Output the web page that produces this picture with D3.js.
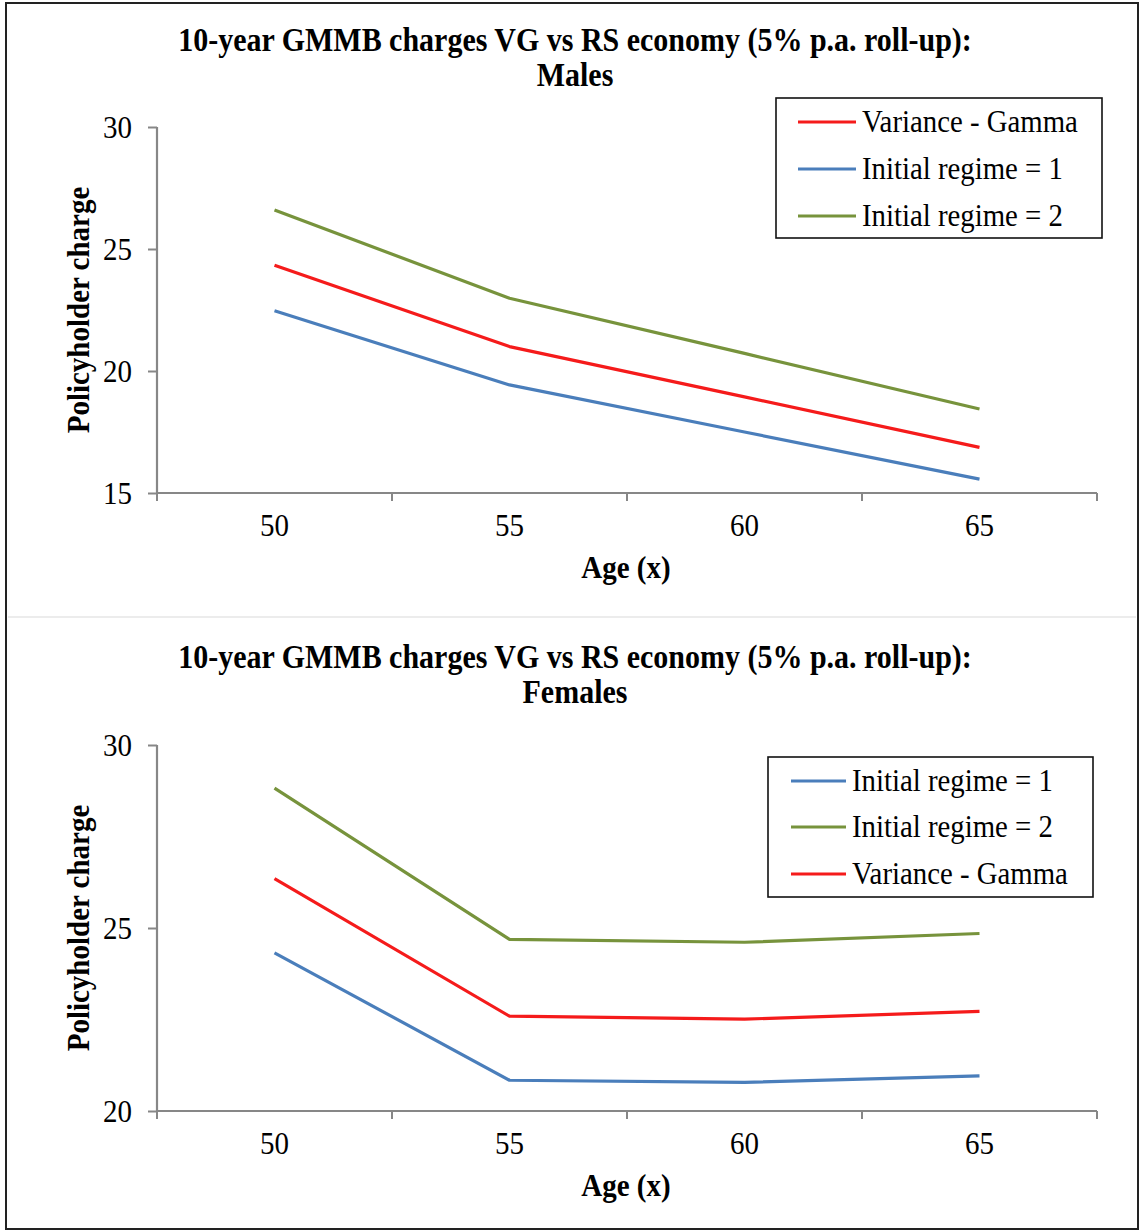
<!DOCTYPE html>
<html>
<head>
<meta charset="utf-8">
<script src="https://cdn.jsdelivr.net/npm/d3@7"></script>
<style>
  html, body { margin: 0; padding: 0; background: #fff; }
  svg { display: block; }
  text { font-family: "Liberation Serif", "Times New Roman", serif; fill: #000; }
</style>
</head>
<body>
<svg id="chart" width="1140" height="1230"></svg>
<script>
// ---- data ----
const ages = ["50", "55", "60", "65"];

const malesTitle = ["10-year GMMB charges VG vs RS economy (5% p.a. roll-up):", "Males"];
const malesVG = [24.33, 21.00, 18.94, 16.87];
const malesRegime1 = [22.47, 19.43, 17.50, 15.57];
const malesRegime2 = [26.60, 22.98, 20.72, 18.44];
const malesYTicks = [15, 20, 25, 30];

const femalesTitle = ["10-year GMMB charges VG vs RS economy (5% p.a. roll-up):", "Females"];
const femalesRegime1 = [24.32, 20.84, 20.78, 20.96];
const femalesRegime2 = [28.82, 24.69, 24.61, 24.85];
const femalesVG = [26.35, 22.59, 22.51, 22.72];
const femalesYTicks = [20, 25, 30];

const seriesNames = { vg: "Variance - Gamma", r1: "Initial regime = 1", r2: "Initial regime = 2" };
const colors = { vg: "#f51b1b", r1: "#4a7ebb", r2: "#77933c" };

const xLabel = "Age (x)";
const yLabel = "Policyholder charge";

// ---- drawing ----
const svg = d3.select("#chart");
const axisColor = "#878787";
const SY = 1.1; // vertical stretch of the reference's lettering

// outer border
svg.append("rect").attr("x", 6).attr("y", 3).attr("width", 1132).attr("height", 1226)
  .attr("fill", "none").attr("stroke", "#222").attr("stroke-width", 2);
// separator
svg.append("line").attr("x1", 8).attr("x2", 1136).attr("y1", 617).attr("y2", 617)
  .attr("stroke", "#ececec").attr("stroke-width", 2);

function stretchedText(parent, x, y, str, size, opts = {}) {
  return parent.append("text")
    .attr("transform", `translate(${x},${y})${opts.rotate ? " rotate(" + opts.rotate + ")" : ""} scale(1,${SY})`)
    .attr("text-anchor", opts.anchor || "start")
    .attr("font-size", size)
    .attr("font-weight", opts.bold ? "bold" : null)
    .attr("dy", opts.dy || null)
    .text(str);
}

function drawPanel(cfg) {
  const g = svg.append("g");
  const x = d3.scaleBand().domain(ages).range([157, 1097]).paddingInner(0).paddingOuter(0);
  const y = d3.scaleLinear().domain([cfg.yMin, cfg.yMax]).range([cfg.bottom, cfg.top]);

  // title
  cfg.title.forEach((line, i) => {
    stretchedText(g, 575, cfg.titleY + i * 35, line, 30, { anchor: "middle", bold: true });
  });

  // y axis
  const yAxis = g.append("g").attr("transform", "translate(157,0)")
    .call(d3.axisLeft(y).tickValues(cfg.yTicks).tickSize(9).tickPadding(16).tickFormat(d3.format("d")));
  yAxis.select(".domain").attr("stroke", axisColor).attr("stroke-width", 2.2)
    .attr("d", `M0,${cfg.top}V${cfg.bottom}`);
  yAxis.selectAll(".tick line").attr("stroke", axisColor).attr("stroke-width", 2);
  yAxis.selectAll(".tick text").attr("font-size", 29).attr("font-family", "Liberation Serif, Times New Roman, serif")
    .attr("fill", "#000").attr("dy", "0.33em").attr("transform", `scale(1,${SY})`);

  // x axis (labels at category centres)
  const xAxis = g.append("g").attr("transform", `translate(0,${cfg.bottom})`)
    .call(d3.axisBottom(x).tickSize(0).tickPadding(0));
  xAxis.select(".domain").attr("stroke", axisColor).attr("stroke-width", 2.2)
    .attr("d", "M157,0H1097");
  xAxis.selectAll(".tick text").attr("font-size", 29).attr("font-family", "Liberation Serif, Times New Roman, serif")
    .attr("fill", "#000").attr("dy", null).attr("y", 43.5 / SY).attr("transform", `scale(1,${SY})`);
  // boundary tick marks
  const bounds = ages.map(a => x(a)).concat([x(ages[ages.length - 1]) + x.bandwidth()]);
  xAxis.selectAll("line.bt").data(bounds).join("line").attr("class", "bt")
    .attr("x1", d => d).attr("x2", d => d).attr("y1", 0).attr("y2", 8)
    .attr("stroke", axisColor).attr("stroke-width", 2);

  // axis titles
  stretchedText(g, 626, cfg.bottom + 85, xLabel, 29, { anchor: "middle", bold: true });
  stretchedText(g, 89, (cfg.top + cfg.bottom) / 2, yLabel, 29, { anchor: "middle", bold: true, rotate: -90 });

  // lines
  const line = d3.line().x((d, i) => x(ages[i]) + x.bandwidth() / 2).y(d => y(d));
  cfg.series.forEach(s => {
    g.append("path").datum(s.values).attr("d", line).attr("fill", "none")
      .attr("stroke", colors[s.key]).attr("stroke-width", 3.2)
      .attr("stroke-linejoin", "round").attr("stroke-linecap", "butt");
  });

  // legend
  const L = cfg.legend;
  const lg = g.append("g");
  lg.append("rect").attr("x", L.x).attr("y", L.y).attr("width", L.w).attr("height", L.h)
    .attr("fill", "#fff").attr("stroke", "#111").attr("stroke-width", 1.6);
  L.order.forEach((key, i) => {
    const ry = L.rowY[i];
    lg.append("line").attr("x1", L.lx1).attr("x2", L.lx2).attr("y1", ry).attr("y2", ry)
      .attr("stroke", colors[key]).attr("stroke-width", 3.2);
    stretchedText(lg, L.tx, ry, seriesNames[key], 28.8, { dy: "0.33em" });
  });
}

drawPanel({
  title: malesTitle, titleY: 51,
  top: 127, bottom: 493, yMin: 15, yMax: 30, yTicks: malesYTicks,
  series: [
    { key: "r2", values: malesRegime2 },
    { key: "vg", values: malesVG },
    { key: "r1", values: malesRegime1 }
  ],
  legend: { x: 776, y: 98, w: 326, h: 140, lx1: 798, lx2: 856, tx: 862,
    rowY: [122, 169, 216], order: ["vg", "r1", "r2"] }
});

drawPanel({
  title: femalesTitle, titleY: 668,
  top: 745, bottom: 1111, yMin: 20, yMax: 30, yTicks: femalesYTicks,
  series: [
    { key: "r2", values: femalesRegime2 },
    { key: "vg", values: femalesVG },
    { key: "r1", values: femalesRegime1 }
  ],
  legend: { x: 768, y: 757, w: 325, h: 140, lx1: 791, lx2: 846, tx: 852,
    rowY: [781, 827, 874], order: ["r1", "r2", "vg"] }
});
</script>
</body>
</html>
